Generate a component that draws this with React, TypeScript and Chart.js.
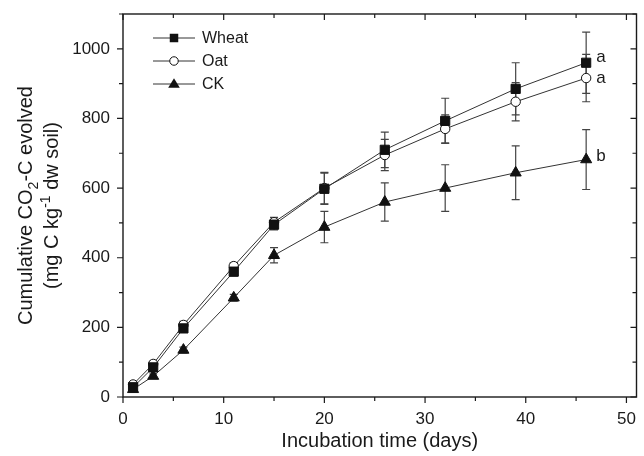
import React, { useEffect, useRef } from "react";
import { Chart, registerables } from "chart.js";

Chart.register(...registerables);

const days = [1, 3, 6, 11, 15, 20, 26, 32, 39, 46];
const wheat = [28, 85, 197, 360, 495, 598, 710, 793, 885, 960];
const wheatErr = [6, 8, 10, 12, 15, 45, 51, 65, 75, 88];
const oat = [36, 95, 207, 376, 502, 600, 695, 770, 848, 916];
const oatErr = [6, 8, 10, 10, 14, 45, 45, 40, 55, 68];
const ck = [22, 60, 135, 285, 407, 488, 560, 600, 644, 682];
const ckErr = [4, 6, 8, 10, 22, 45, 55, 67, 77, 86];
const seriesNames = ["Wheat", "Oat", "CK"];
const groupLetters = ["a", "a", "b"];
const xTicks = [0, 10, 20, 30, 40, 50];
const yTicks = [0, 200, 400, 600, 800, 1000];
const xMinorStep = 5;
const yMinorStep = 100;

const FONT = "'Liberation Sans', Arial, Helvetica, sans-serif";
const INK = "#1a1a1a";

type Style = "rect" | "circle" | "triangle";
const styles: Style[] = ["rect", "circle", "triangle"];

function drawMarker(ctx: CanvasRenderingContext2D, style: Style, x: number, y: number, s: number) {
  ctx.save();
  ctx.lineWidth = 1;
  ctx.strokeStyle = "#111";
  ctx.fillStyle = "#111";
  ctx.beginPath();
  if (style === "rect") {
    ctx.rect(x - s / 2, y - s / 2, s, s);
    ctx.fill();
  } else if (style === "circle") {
    ctx.fillStyle = "#fff";
    ctx.arc(x, y, s / 2, 0, Math.PI * 2);
    ctx.fill();
    ctx.stroke();
  } else {
    const h = s * 0.95;
    ctx.moveTo(x, y - h * 0.6);
    ctx.lineTo(x + s * 0.58, y + h * 0.4);
    ctx.lineTo(x - s * 0.58, y + h * 0.4);
    ctx.closePath();
    ctx.fill();
  }
  ctx.restore();
}

function drawRich(ctx: CanvasRenderingContext2D, parts: { t: string; k?: "sub" | "sup" }[], size: number) {
  const small = Math.round(size * 0.68);
  let total = 0;
  const widths = parts.map((p) => {
    ctx.font = `${p.k ? small : size}px ${FONT}`;
    const w = ctx.measureText(p.t).width;
    total += w;
    return w;
  });
  let x = -total / 2;
  parts.forEach((p, i) => {
    ctx.font = `${p.k ? small : size}px ${FONT}`;
    const dy = p.k === "sub" ? size * 0.28 : p.k === "sup" ? -size * 0.4 : 0;
    ctx.fillText(p.t, x, dy);
    x += widths[i];
  });
}

const errorBars = {
  id: "errorBars",
  beforeDatasetsDraw(chart: any) {
    const ctx = chart.ctx;
    const ys = chart.scales.y;
    const errs = [wheatErr, oatErr, ckErr];
    const vals = [wheat, oat, ck];
    ctx.save();
    ctx.strokeStyle = "#444";
    ctx.lineWidth = 1.2;
    errs.forEach((err, i) => {
      const meta = chart.getDatasetMeta(i);
      meta.data.forEach((pt: any, j: number) => {
        const x = pt.x;
        const t = ys.getPixelForValue(vals[i][j] + err[j]);
        const b = ys.getPixelForValue(vals[i][j] - err[j]);
        ctx.beginPath();
        ctx.moveTo(x, t);
        ctx.lineTo(x, b);
        ctx.moveTo(x - 4, t);
        ctx.lineTo(x + 4, t);
        ctx.moveTo(x - 4, b);
        ctx.lineTo(x + 4, b);
        ctx.stroke();
      });
    });
    ctx.restore();
  },
};

const decorations = {
  id: "decorations",
  afterDraw(chart: any) {
    const ctx: CanvasRenderingContext2D = chart.ctx;
    const a = chart.chartArea;
    const xs = chart.scales.x;
    const ys = chart.scales.y;
    ctx.save();
    // frame
    ctx.strokeStyle = INK;
    ctx.lineWidth = 1.4;
    ctx.strokeRect(a.left, a.top, a.right - a.left, a.bottom - a.top);
    ctx.lineWidth = 1.2;
    ctx.beginPath();
    for (let v = 0; v <= xs.max + 0.001; v += xMinorStep) {
      const px = xs.getPixelForValue(v);
      const len = v % 10 === 0 ? 6 : 4;
      ctx.moveTo(px, a.bottom);
      ctx.lineTo(px, a.bottom + len);
      ctx.moveTo(px, a.top);
      ctx.lineTo(px, a.top + len);
    }
    for (let v = 0; v <= ys.max + 0.001; v += yMinorStep) {
      const py = ys.getPixelForValue(v);
      const len = v % 200 === 0 ? 6 : 4;
      ctx.moveTo(a.left, py);
      ctx.lineTo(a.left - len, py);
      ctx.moveTo(a.right, py);
      ctx.lineTo(a.right - len, py);
    }
    ctx.stroke();

    // legend
    const rows = [38, 61, 84];
    ctx.fillStyle = INK;
    ctx.font = `16px ${FONT}`;
    ctx.textBaseline = "middle";
    ctx.textAlign = "left";
    seriesNames.forEach((name, i) => {
      const y = rows[i];
      ctx.strokeStyle = "#333";
      ctx.lineWidth = 1;
      ctx.beginPath();
      ctx.moveTo(153, y);
      ctx.lineTo(195, y);
      ctx.stroke();
      drawMarker(ctx, styles[i], 174, y, styles[i] === "triangle" ? 10 : 8.5);
      ctx.fillStyle = INK;
      ctx.fillText(name, 202, y + 1);
    });

    // group letters
    ctx.font = `17px ${FONT}`;
    const offs = [-5, 0, -3];
    groupLetters.forEach((l, i) => {
      const meta = chart.getDatasetMeta(i);
      const p = meta.data[meta.data.length - 1];
      ctx.fillText(l, p.x + 10, p.y + offs[i]);
    });

    // y title
    ctx.textAlign = "left";
    ctx.textBaseline = "alphabetic";
    const cy = (a.top + a.bottom) / 2;
    ctx.save();
    ctx.translate(32, cy);
    ctx.rotate(-Math.PI / 2);
    drawRich(ctx, [{ t: "Cumulative CO" }, { t: "2", k: "sub" }, { t: "-C evolved" }], 20);
    ctx.restore();
    ctx.save();
    ctx.translate(58, cy);
    ctx.rotate(-Math.PI / 2);
    drawRich(ctx, [{ t: "(mg C kg" }, { t: "-1", k: "sup" }, { t: " dw soil)" }], 20);
    ctx.restore();
    ctx.restore();
  },
};

export default function App() {
  const ref = useRef<HTMLCanvasElement | null>(null);
  useEffect(() => {
    if (!ref.current) return;
    const mk = (data: number[]) => days.map((d, i) => ({ x: d, y: data[i] }));
    const sets = [wheat, oat, ck];
    const chart = new Chart(ref.current, {
      type: "line",
      data: {
        datasets: sets.map((s, i) => ({
          label: seriesNames[i],
          data: mk(s),
          borderColor: "#333",
          borderWidth: 1,
          pointStyle: styles[i] === "rect" ? "rect" : styles[i] === "circle" ? "circle" : "triangle",
          pointRadius: styles[i] === "rect" ? 6.5 : styles[i] === "circle" ? 4.7 : 6.4,
          pointBackgroundColor: styles[i] === "circle" ? "#fff" : "#111",
          pointBorderColor: "#111",
          pointBorderWidth: 1,
          tension: 0,
        })),
      },
      options: {
        animation: false,
        responsive: false,
        events: [],
        layout: { padding: { top: 14, right: 1, left: 0, bottom: 0 } },
        plugins: { legend: { display: false }, tooltip: { enabled: false } },
        scales: {
          x: {
            type: "linear",
            min: 0,
            max: 51,
            grid: { display: false, drawTicks: false },
            border: { display: false },
            afterBuildTicks: (s: any) => {
              s.ticks = xTicks.map((v) => ({ value: v }));
            },
            afterFit: (s: any) => {
              s.height = 59;
              s.paddingLeft = 0;
              s.paddingRight = 0;
            },
            ticks: {
              font: { family: FONT, size: 17 },
              color: INK,
              padding: 12,
              maxRotation: 0,
              callback: (v: any) => String(v),
            },
            title: {
              display: true,
              text: "Incubation time (days)",
              font: { family: FONT, size: 20 },
              color: INK,
              padding: { top: 0, bottom: 3 },
            },
          },
          y: {
            type: "linear",
            min: 0,
            max: 1100,
            grid: { display: false, drawTicks: false },
            border: { display: false },
            afterBuildTicks: (s: any) => {
              s.ticks = yTicks.map((v) => ({ value: v }));
            },
            afterFit: (s: any) => {
              s.width = 123;
              s.paddingTop = 0;
              s.paddingBottom = 0;
            },
            ticks: {
              font: { family: FONT, size: 17 },
              color: INK,
              padding: 13,
              callback: (v: any) => String(v),
            },
          },
        },
      },
      plugins: [errorBars, decorations],
    });
    return () => chart.destroy();
  }, []);
  return (
    <div style={{ position: "fixed", left: 0, top: 0, width: 644, height: 456, background: "#fff" }}>
      <canvas ref={ref} width={644} height={456} style={{ width: 644, height: 456, display: "block" }} />
    </div>
  );
}
